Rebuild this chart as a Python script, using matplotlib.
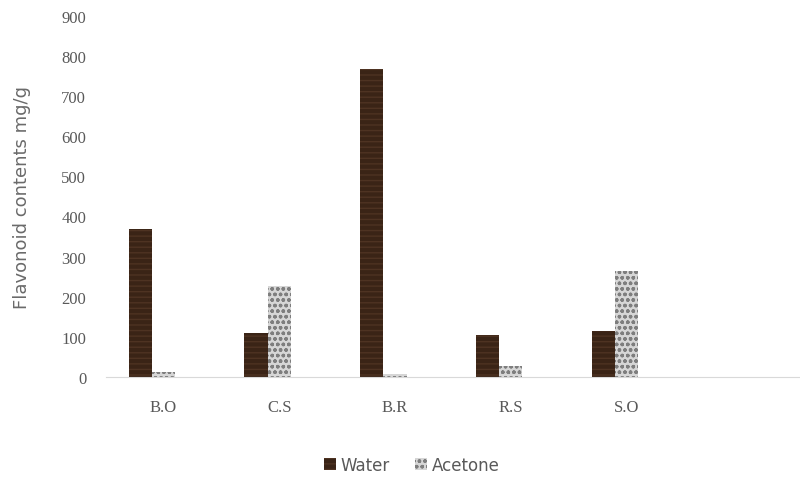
import numpy as np
import matplotlib.pyplot as plt

# sample codes and flavonoid content (mg/g) per extract
samples = ['B.O', 'C.S', 'B.R', 'R.S', 'S.O']
water = [369, 110, 768, 105, 115]
acetone = [12, 227, 8, 28, 265]

grey = '#595959'

fig = plt.figure(figsize=(8, 4.85), dpi=100)
ax = fig.add_axes([0.132, 0.221, 0.868, 0.744])

x = np.arange(len(samples))
w = 0.2
ax.bar(x - w, water, w, color='#3a2416', edgecolor='#4e3322', hatch='---',
       linewidth=0, label='Water')
ax.bar(x, acetone, w, color='#d6d6d6', edgecolor='#7e7e7e', hatch='ooo',
       linewidth=0, label='Acetone')

ax.set_xlim(-0.5, 5.5)
ax.set_ylim(0, 900)
ax.set_yticks(range(0, 901, 100))
ax.set_xticks(x)
ax.set_xticklabels(samples, fontfamily='Liberation Serif', fontsize=12, color=grey)
for t in ax.get_yticklabels():
    t.set_fontfamily('Liberation Serif')
    t.set_fontsize(12)
    t.set_color(grey)
ax.tick_params(axis='both', length=0)
ax.tick_params(axis='y', pad=14)
ax.tick_params(axis='x', pad=16)

for s in ['top', 'right', 'left']:
    ax.spines[s].set_visible(False)
ax.spines['bottom'].set_color('#d9d9d9')

ax.set_ylabel('Flavonoid contents mg/g', fontsize=13, color='#6a6a6a', labelpad=22)

fig.legend(loc='lower center', bbox_to_anchor=(0.515, -0.01), ncol=2, frameon=False,
           fontsize=12, handlelength=0.7, handleheight=0.7, columnspacing=1.5,
           handletextpad=0.3, labelcolor=grey)

fig.savefig('out.png', dpi=100)
